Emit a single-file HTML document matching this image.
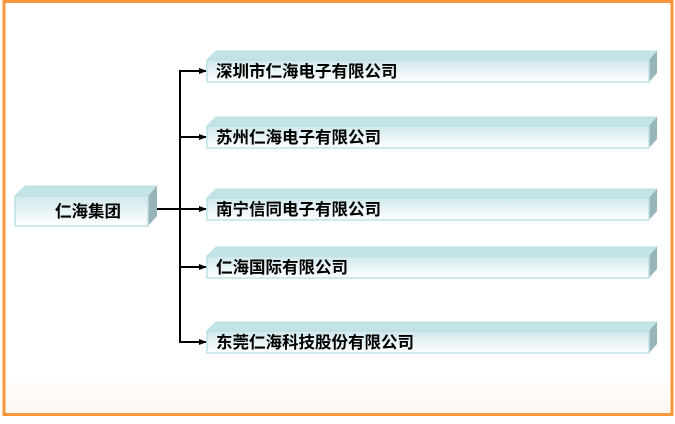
<!DOCTYPE html>
<html><head><meta charset="utf-8"><style>
html,body{margin:0;padding:0;background:#fff;}
text{font-family:"Liberation Sans","Noto Sans CJK SC",sans-serif;font-size:16.5px;font-weight:bold;fill:#000;}
</style></head><body>
<svg width="675" height="419" viewBox="0 0 675 419" xmlns="http://www.w3.org/2000/svg">
<defs>
<linearGradient id="g" x1="0" y1="0" x2="0" y2="1">
<stop offset="0" stop-color="#cfe8ec"/><stop offset="1" stop-color="#ffffff"/></linearGradient>
<linearGradient id="bg" x1="0" y1="0" x2="0" y2="1">
<stop offset="0.9" stop-color="#fff"/><stop offset="1" stop-color="#fef6f0"/></linearGradient>
<marker id="a" markerWidth="8" markerHeight="8" refX="7" refY="4" orient="auto" markerUnits="userSpaceOnUse">
<path d="M0,1 L8,4 L0,7 Z" fill="#000"/></marker>
</defs>
<rect x="4" y="1.5" width="668" height="413" fill="url(#bg)" stroke="#f7963c" stroke-width="3"/>
<polygon points="15,196 25,186 157,186 148,196" fill="#c3e3e7" stroke="#bfe0e4"/>
<polygon points="148,196 157,186 157,216 148,226" fill="#97b5b8"/>
<rect x="15" y="196" width="133" height="30" fill="url(#g)" stroke="#bfe0e4" stroke-width="1.5"/>
<text x="88" y="217" text-anchor="middle">仁海集团</text>
<g stroke="#000" stroke-width="2" fill="none">
<line x1="157" y1="209" x2="180" y2="209"/>
<line x1="180" y1="70" x2="180" y2="342"/>
<line x1="179" y1="71" x2="206" y2="71" marker-end="url(#a)"/>
<line x1="179" y1="137" x2="206" y2="137" marker-end="url(#a)"/>
<line x1="179" y1="209" x2="206" y2="209" marker-end="url(#a)"/>
<line x1="179" y1="267" x2="206" y2="267" marker-end="url(#a)"/>
<line x1="179" y1="342" x2="206" y2="342" marker-end="url(#a)"/>
</g>
<g id="b1">
<polygon points="207,60 216,51 657,51 649,60" fill="#c3e3e7" stroke="#bfe0e4"/>
<polygon points="649,60 657,51 657,73 649,82" fill="#97b5b8"/>
<rect x="207" y="60" width="442" height="22" fill="url(#g)" stroke="#bfe0e4" stroke-width="1.5"/>
</g>
<use href="#b1" y="66"/>
<use href="#b1" y="138"/>
<use href="#b1" y="196"/>
<use href="#b1" y="271"/>
<text x="216" y="77">深圳市仁海电子有限公司</text>
<text x="216" y="143">苏州仁海电子有限公司</text>
<text x="216" y="215">南宁信同电子有限公司</text>
<text x="216" y="273">仁海国际有限公司</text>
<text x="216" y="348">东莞仁海科技股份有限公司</text>
</svg>
</body></html>
